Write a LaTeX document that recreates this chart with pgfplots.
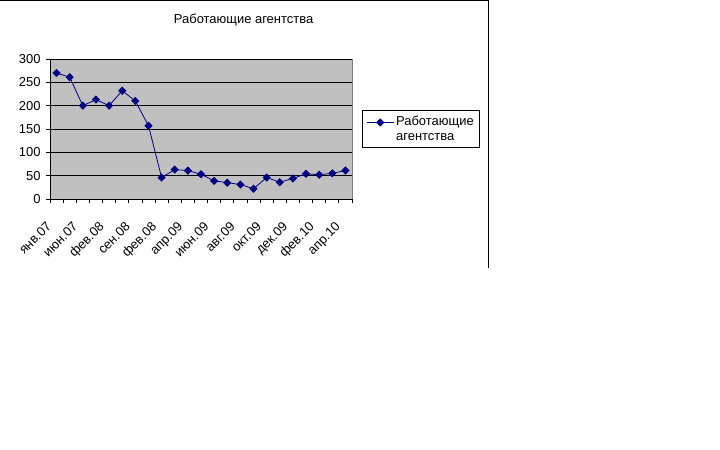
\documentclass[border=0pt]{standalone}
\usepackage{fontspec}
\setmainfont{Liberation Sans}
\usepackage{pgfplots}
\pgfplotsset{compat=1.18}

\definecolor{plotgray}{RGB}{192,192,192}
\definecolor{framegray}{RGB}{128,128,128}
\definecolor{navyline}{RGB}{0,0,128}

\newcommand{\chfont}{\fontsize{13}{14.3}\selectfont}

\begin{document}
\begin{tikzpicture}
% page = 720 x 450 px, 1px = 1bp
\path[use as bounding box] (0bp,0bp) rectangle (720bp,450bp);
\draw[black, line width=1bp] (0bp,449.5bp) -- (488.5bp,449.5bp) -- (488.5bp,182bp);

\begin{axis}[
    at={(50bp,251bp)}, anchor=south west,
    scale only axis,
    width=302bp, height=140bp,
    xmin=-0.5, xmax=22.5,
    ymin=0, ymax=300,
    ytick={0,50,...,300},
    xtick={-0.5,0.5,...,22.5},
    xticklabels={},
    extra x ticks={0,2,...,22},
    extra x tick labels={янв.07,июн.07,фев.08,сен.08,фев.08,апр.09,июн.09,авг.09,окт.09,дек.09,фев.10,апр.10},
    extra x tick style={
        major tick length=0pt,
        grid=none,
        tick label style={xshift=-11bp, yshift=-17bp, rotate=45, anchor=north east},
    },
    yticklabel style={xshift=-2bp},
    axis x line*=bottom,
    axis y line*=left,
    axis line style={black, line width=0.8bp, -},
    axis background/.style={fill=plotgray, draw=framegray, line width=0.8bp},
    tick align=outside,
    major tick length=4bp,
    tick style={black, line width=0.8bp},
    ymajorgrids,
    grid style={black, line width=0.8bp},
    tick label style={font=\chfont},
    /pgf/number format/assume math mode=true,
    title={Работающие агентства},
    title style={font=\chfont, at={(0.641,1.214)}, anchor=base},
    legend style={at={(1.033,0.636)}, anchor=north west, draw=black,
        line width=0.8bp, fill=white, font=\chfont,
        inner xsep=4bp, inner ysep=4bp,
        nodes={align=left}},
    legend cell align=left,
    legend image code/.code={
        \path[draw=none, fill=none] (1.5bp,-6.5bp) -- (28.5bp,-6.5bp);
        \draw[mark repeat=2, mark phase=2] plot coordinates {(1.5bp,6.5bp) (15bp,6.5bp) (28.5bp,6.5bp)};
    },
]
\addplot[navyline, line width=0.8bp, mark=square*, mark size=2.5bp,
    mark options={fill=navyline, draw=navyline, rotate=45}]
coordinates {
  (0,270) (1,261) (2,200) (3,213) (4,200) (5,232) (6,210) (7,157)
  (8,46) (9,63) (10,61) (11,53) (12,39) (13,35) (14,31) (15,22)
  (16,46) (17,36) (18,44) (19,54) (20,52) (21,55) (22,61)
};
\addlegendentry{Работающие\\агентства}
\end{axis}
\end{tikzpicture}
\end{document}
